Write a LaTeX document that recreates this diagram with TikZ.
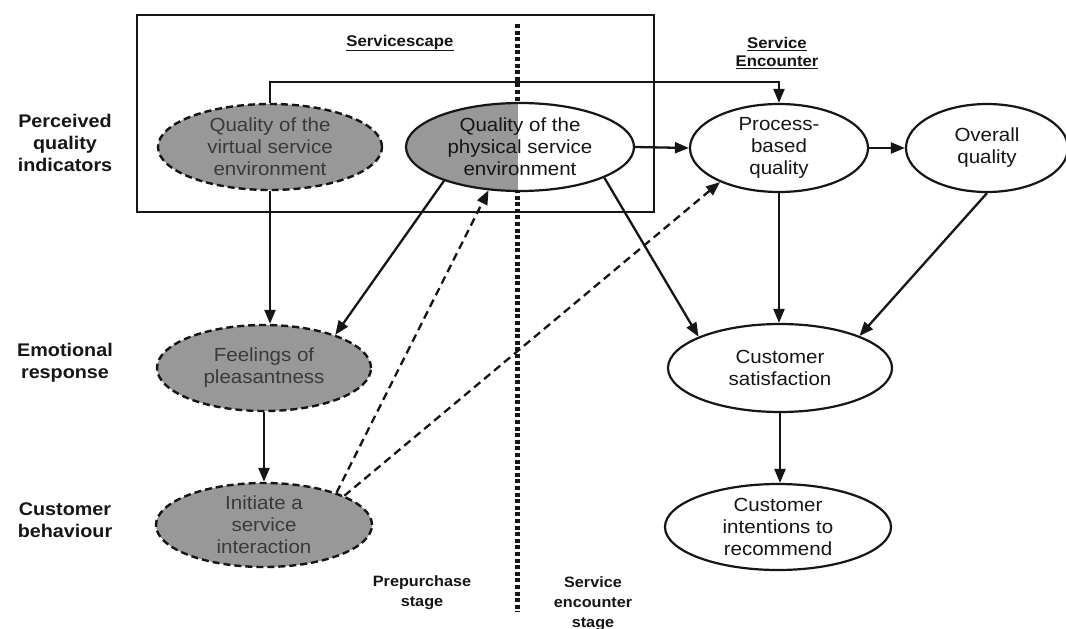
\documentclass[tikz,border=0pt]{standalone}
\usepackage{fontspec}
\setmainfont[FakeStretch=1.08]{Liberation Sans}
\usetikzlibrary{arrows.meta,shapes.geometric}
\definecolor{greyfill}{RGB}{152,152,152}
\definecolor{ink}{RGB}{22,22,22}
\definecolor{dimtext}{RGB}{58,58,58}
\begin{document}
\begin{tikzpicture}[x=1pt,y=-1pt,
  every node/.style={font=\fontsize{19}{22}\selectfont, align=center, inner sep=0pt, text=ink},
  oval/.style={ellipse, draw=ink, line width=2.2pt},
  mood/.style={oval, fill=greyfill, dash pattern=on 7pt off 4pt, line width=2.4pt, text=dimtext},
  rowlab/.style={font=\bfseries\fontsize{18.3}{22}\selectfont},
  hdr/.style={font=\bfseries\fontsize{15.5}{18}\selectfont},
  stagelab/.style={font=\bfseries\fontsize{15}{20}\selectfont},
  link/.style={draw=ink, line width=2.3pt, -{Triangle[length=14pt,width=11pt]}},
  hint/.style={link, dash pattern=on 8pt off 5pt},
]
\useasboundingbox[fill=white] (0,0) rectangle (1066,629);

% servicescape frame and stage divider
\draw[ink, line width=1.6pt] (137,15) rectangle (654,212);
\draw[ink, line width=5pt, dash pattern=on 4pt off 2.6pt] (517,24) -- (517,612);

% row labels
\node[rowlab] (lp) at (65,143) {Perceived\\quality\\indicators};
\node[rowlab] (le) at (65,363) {Emotional\\response};
\node[rowlab] (lc) at (65,520) {Customer\\behaviour};

% section headers
\node[hdr] (scape) at (400,43) {\underline{Servicescape}};
\node[hdr] (enc) at (777,53) {\underline{Service}\\\underline{Encounter}};

% stage labels
\node[stagelab] (pre) at (422,593) {Prepurchase\\stage};
\node[stagelab] (dur) at (593,604) {Service\\encounter\\stage};

% constructs
\node[mood, minimum width=224pt, minimum height=86pt] (virt) at (270,147) {Quality of the\\virtual service\\environment};
\node[oval, fill=white, minimum width=228pt, minimum height=88pt,
      path picture={\fill[greyfill] (path picture bounding box.north west) rectangle ([xshift=-2pt]path picture bounding box.south);}]
      (phys) at (520,147) {Quality of the\\physical service\\environment};
\node[oval, minimum width=178pt, minimum height=88pt] (proc) at (779,148) {Process-\\based\\quality};
\node[oval, minimum width=162pt, minimum height=88pt] (over) at (987,148) {Overall\\quality};
\node[mood, minimum width=214pt, minimum height=86pt] (feel) at (264,368) {Feelings of\\pleasantness};
\node[mood, minimum width=216pt, minimum height=84pt] (init) at (264,525) {Initiate a\\service\\interaction};
\node[oval, minimum width=224pt, minimum height=88pt] (sat) at (780,368) {Customer\\satisfaction};
\node[oval, minimum width=226pt, minimum height=86pt] (rec) at (778,527) {Customer\\intentions to\\recommend};

% paths
\draw[link] (virt.north) -- ++(0,-21) -| (proc.north);
\draw[link] (virt.south) -- (virt.south |- feel.north);
\draw[link] (phys.204) -- (feel.25);
\draw[link] (phys.east) -- (proc.west);
\draw[link] (proc.east) -- (over.west);
\draw[link] (phys.340) -- (sat.159);
\draw[link] (proc.south) -- (proc.south |- sat.north);
\draw[link] (over.south) -- (sat.22);
\draw[link] (sat.south) -- (sat.south |- rec.north);
\draw[link] (feel.south) -- (init.north);
\draw[hint] (init.24) -- (phys.234);
\draw[hint] (init.20) -- (proc.210);
\end{tikzpicture}
\end{document}
